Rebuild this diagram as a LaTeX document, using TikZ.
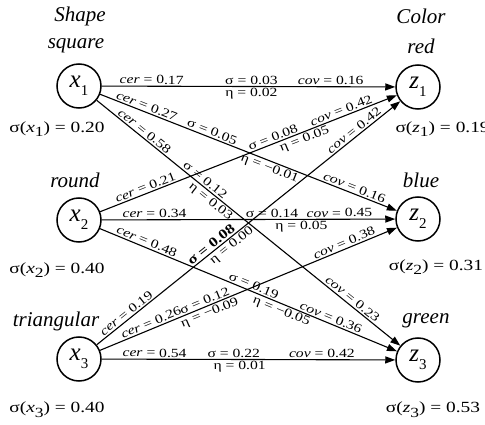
\documentclass[tikz,border=0pt]{standalone}
\usepackage{fontspec}
\setmainfont{Liberation Serif}
\newfontfamily\widefont[FakeStretch=1.25]{Liberation Serif}
\usetikzlibrary{arrows.meta}
\newcommand\nv[2]{\textit{#1}\raisebox{-0.32em}{\fontsize{15}{15}\selectfont #2}}
\newcommand\sv[2]{\textit{#1}\raisebox{-0.3em}{\fontsize{14}{14}\selectfont #2}}
\begin{document}
\begin{tikzpicture}[x=1pt,y=-1pt,
  var/.style={draw,circle,line width=1.5pt,minimum size=44pt,inner sep=0pt,font=\fontsize{25}{25}\selectfont},
  edge/.style={line width=1.1pt,-{Triangle[length=10pt,width=7pt]}},
  lab/.style={font=\widefont\fontsize{12.5}{13}\selectfont,inner sep=1.5pt,sloped},
  cat/.style={font=\fontsize{21}{21}\selectfont\itshape},
  sig/.style={font=\widefont\fontsize{15.5}{16}\selectfont}]
\useasboundingbox (0,0) rectangle (485,425);
\node[var] (x1) at (79,86) {\nv{x}{1}};
\node[var] (x2) at (79,220) {\nv{x}{2}};
\node[var] (x3) at (79,359) {\nv{x}{3}};
\node[var] (z1) at (418,87) {\nv{z}{1}};
\node[var] (z2) at (418,219) {\nv{z}{2}};
\node[var] (z3) at (418,360) {\nv{z}{3}};
% category labels
\node[cat] (tshape) at (80,16) {Shape};
\node[cat] (tsquare) at (76,46) {square};
\node[cat] (tcolor) at (421,16) {Color};
\node[cat] (tred) at (421,46) {red};
\node[cat] (tround) at (75,180) {round};
\node[cat] (tblue) at (421,180) {blue};
\node[cat] (ttri) at (56,321) {triangular};
\node[cat] (tgreen) at (426,321) {green};
% sigma labels
\node[sig] (sx1) at (57,129) {σ(\sv{x}{1}) = 0.20};
\node[sig] (sx2) at (57,270) {σ(\sv{x}{2}) = 0.40};
\node[sig] (sx3) at (57,410) {σ(\sv{x}{3}) = 0.40};
\node[sig,anchor=west] (sz1) at (392,129) {σ(\sv{z}{1}) = 0.19};
\node[sig] (sz2) at (436,267) {σ(\sv{z}{2}) = 0.31};
\node[sig] (sz3) at (433,410) {σ(\sv{z}{3}) = 0.53};
% edges
\draw[edge] (x1) -- (z1)
  node[lab,above,pos=.17] {\textit{cer} = 0.17}
  node[lab,above,pos=.51] {σ = 0.03}
  node[lab,below,pos=.51] {η = 0.02}
  node[lab,above,pos=.78] {\textit{cov} = 0.16};
\draw[edge] (x1) -- (z2)
  node[lab,above,pos=.15] {\textit{cer} = 0.27}
  node[lab,above,pos=.37] {σ = 0.05}
  node[lab,below,pos=.58] {η = −0.01}
  node[lab,above,pos=.85] {\textit{cov} = 0.16};
\draw[edge] (x1) -- (z3)
  node[lab,above,pos=.145] {\textit{cer} = 0.58}
  node[lab,above,pos=.345] {σ = 0.12}
  node[lab,below,pos=.39] {η = 0.03}
  node[lab,above,pos=.83] {\textit{cov} = 0.23};
\draw[edge] (x2) -- (z1)
  node[lab,above,pos=.16] {\textit{cer} = 0.21}
  node[lab,above,pos=.59] {σ = 0.08}
  node[lab,below,pos=.68] {η = 0.05}
  node[lab,above,pos=.82] {\textit{cov} = 0.42};
\draw[edge] (x2) -- (z2)
  node[lab,above,pos=.18] {\textit{cer} = 0.34}
  node[lab,above,pos=.58] {σ = 0.14}
  node[lab,below,pos=.68] {η = 0.05}
  node[lab,above,pos=.81] {\textit{cov} = 0.45};
\draw[edge] (x2) -- (z3)
  node[lab,above,pos=.15] {\textit{cer} = 0.48}
  node[lab,above,pos=.51] {σ = 0.19}
  node[lab,below,pos=.62] {η = −0.05}
  node[lab,above,pos=.77] {\textit{cov} = 0.36};
\draw[edge] (x3) -- (z1)
  node[lab,above,pos=.11] {\textit{cer} = 0.19}
  node[lab,above,pos=.39,font=\widefont\fontsize{13.5}{14}\selectfont\bfseries] {σ = 0.08}
  node[lab,below,pos=.43] {η = 0.00}
  node[lab,above,pos=.86] {\textit{cov} = 0.42};
\draw[edge] (x3) -- (z2)
  node[lab,above,pos=.18] {\textit{cer} = 0.26}
  node[lab,above,pos=.36] {σ = 0.12}
  node[lab,below,pos=.36] {η = −0.09}
  node[lab,above,pos=.83] {\textit{cov} = 0.38};
\draw[edge] (x3) -- (z3)
  node[lab,above,pos=.18] {\textit{cer} = 0.54}
  node[lab,above,pos=.45] {σ = 0.22}
  node[lab,below,pos=.47] {η = 0.01}
  node[lab,above,pos=.75] {\textit{cov} = 0.42};
\end{tikzpicture}
\end{document}
